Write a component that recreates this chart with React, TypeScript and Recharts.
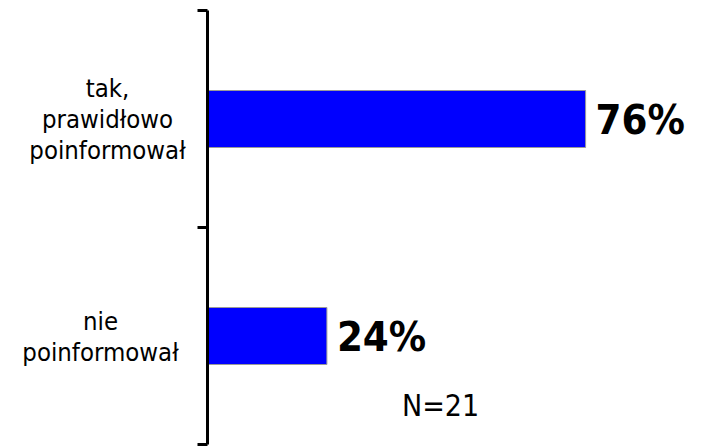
import { BarChart, Bar, XAxis, YAxis, LabelList } from 'recharts'

// survey answers
const categories = ['tak, prawidłowo poinformował', 'nie poinformował']
const labelLines = [['tak,', 'prawidłowo', 'poinformował'], ['nie', 'poinformował']]
const values = [76, 24]
const sampleNote = 'N=21'

const data = categories.map((name, i) => ({ name, value: values[i] }))

const FONT = '"DejaVu Sans Condensed", "DejaVu Sans", sans-serif'
// distance from axis to the centre of each wrapped label
const LABEL_GAP = [100, 107]

function CategoryTick(props: any) {
    const { x, y, payload } = props
    const idx = categories.indexOf(payload.value)
    const lines = labelLines[idx] || [payload.value]
    const half = payload.offset || 0
    const lineH = 31
    const startY = y - ((lines.length - 1) * lineH) / 2
    const cx = x - (LABEL_GAP[idx] ?? 100)
    return (
        <g>
            <line x1={x - 10} x2={x} y1={y - half} y2={y - half} stroke="#000" strokeWidth={3} />
            {idx === categories.length - 1 && (
                <line x1={x - 10} x2={x} y1={y + half} y2={y + half} stroke="#000" strokeWidth={3} />
            )}
            <text
                x={cx}
                y={startY}
                textAnchor="middle"
                dominantBaseline="central"
                fontFamily={FONT}
                fontSize={25.5}
                fill="#000"
            >
                {lines.map((l, i) => (
                    <tspan key={i} x={cx} y={startY + i * lineH}>
                        {l}
                    </tspan>
                ))}
            </text>
        </g>
    )
}

export default function App() {
    return (
        <div
            style={{
                position: 'absolute',
                left: 0,
                top: 0,
                width: 702,
                height: 447,
                overflow: 'hidden',
                background: '#fff',
            }}
        >
            <BarChart
                width={710}
                height={447}
                data={data}
                layout="vertical"
                margin={{ top: 10.5, right: 5, bottom: 2.5, left: 0 }}
            >
                <XAxis type="number" domain={[0, 100]} hide />
                <YAxis
                    type="category"
                    dataKey="name"
                    width={207.5}
                    interval={0}
                    tickSize={0}
                    tickMargin={0}
                    tickLine={false}
                    axisLine={{ stroke: '#000', strokeWidth: 3 }}
                    tick={<CategoryTick />}
                />
                <Bar dataKey="value" fill="#0000ff" stroke="#999999" strokeWidth={1} barSize={57} isAnimationActive={false}>
                    <LabelList
                        dataKey="value"
                        position="right"
                        offset={10}
                        formatter={(v: any) => `${v}%`}
                        fill="#000"
                        fontFamily={FONT}
                        fontWeight="bold"
                        fontSize={41.5}
                    />
                </Bar>
            </BarChart>
            <svg width={702} height={447} style={{ position: 'absolute', left: 0, top: 0, pointerEvents: 'none' }}>
                <text x={402} y={416} fontFamily={FONT} fontSize={30} fill="#000">
                    {sampleNote}
                </text>
            </svg>
        </div>
    )
}
